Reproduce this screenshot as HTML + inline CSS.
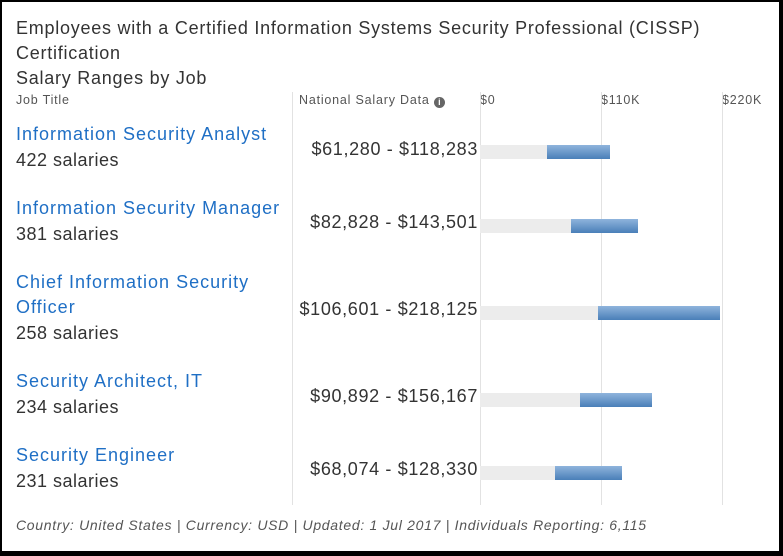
<!DOCTYPE html>
<html><head><style>
body{margin:0;width:783px;height:556px;background:#fff;font-family:"Liberation Sans",sans-serif;overflow:hidden}
.t{position:absolute;white-space:nowrap}
.vl{position:absolute;top:92px;height:413px;width:1px;background:#e2e2e2}
.g{position:absolute;height:14px;background:#ececec}
.b{position:absolute;height:14px;background:linear-gradient(#8fb4dc,#4a7fb8)}
.job{color:#1f6fc5;font-size:18px;letter-spacing:1px}
.cnt{color:#333;font-size:18px;letter-spacing:0.5px}
.sal{color:#333;font-size:18px;text-align:right;width:200px;letter-spacing:0.65px}
.h{font-size:12.5px;color:#555;letter-spacing:0.8px}
</style></head><body>
<div style="position:absolute;left:0;top:0;width:777px;height:549px;border:2px solid #000;border-right-width:4px;border-bottom-width:5px"></div>
<div class="t" style="left:16px;top:16px;font-size:18px;color:#333;line-height:25px;letter-spacing:0.75px">Employees with a Certified Information Systems Security Professional (CISSP)<br>Certification<br>Salary Ranges by Job</div>
<div class="t h" style="left:16px;top:93px">Job Title</div>
<div class="t h" style="left:299px;top:93px">National Salary Data <span style="display:inline-block;width:11px;height:11px;border-radius:50%;background:#666;color:#fff;font-size:9px;text-align:center;line-height:11px;font-weight:bold;vertical-align:-1px;letter-spacing:0">i</span></div>
<div class="t h" style="left:480px;top:93px">$0</div>
<div class="t h" style="left:601px;top:93px">$110K</div>
<div class="t h" style="left:722px;top:93px">$220K</div>
<div class="vl" style="left:292px"></div>
<div class="vl" style="left:480px"></div>
<div class="vl" style="left:601px"></div>
<div class="vl" style="left:722px"></div>

<div class="t job" style="left:16px;top:124px">Information Security Analyst</div>
<div class="t cnt" style="left:16px;top:150px">422 salaries</div>
<div class="t sal" style="left:278px;top:139px">$61,280 - $118,283</div>
<div class="g" style="left:480px;top:145px;width:67px"></div><div class="b" style="left:547px;top:145px;width:63px"></div>

<div class="t job" style="left:16px;top:198px">Information Security Manager</div>
<div class="t cnt" style="left:16px;top:224px">381 salaries</div>
<div class="t sal" style="left:278px;top:212px">$82,828 - $143,501</div>
<div class="g" style="left:480px;top:219px;width:91px"></div><div class="b" style="left:571px;top:219px;width:67px"></div>

<div class="t job" style="left:16px;top:272px">Chief Information Security</div>
<div class="t job" style="left:16px;top:297px">Officer</div>
<div class="t cnt" style="left:16px;top:323px">258 salaries</div>
<div class="t sal" style="left:278px;top:299px">$106,601 - $218,125</div>
<div class="g" style="left:480px;top:306px;width:118px"></div><div class="b" style="left:598px;top:306px;width:122px"></div>

<div class="t job" style="left:16px;top:371px">Security Architect, IT</div>
<div class="t cnt" style="left:16px;top:397px">234 salaries</div>
<div class="t sal" style="left:278px;top:386px">$90,892 - $156,167</div>
<div class="g" style="left:480px;top:393px;width:100px"></div><div class="b" style="left:580px;top:393px;width:72px"></div>

<div class="t job" style="left:16px;top:445px">Security Engineer</div>
<div class="t cnt" style="left:16px;top:471px">231 salaries</div>
<div class="t sal" style="left:278px;top:459px">$68,074 - $128,330</div>
<div class="g" style="left:480px;top:466px;width:75px"></div><div class="b" style="left:555px;top:466px;width:67px"></div>

<div class="t" style="left:16px;top:517px;font-size:14px;color:#555;font-style:italic;letter-spacing:0.7px">Country: United States | Currency: USD | Updated: 1 Jul 2017 | Individuals Reporting: 6,115</div>
</body></html>
